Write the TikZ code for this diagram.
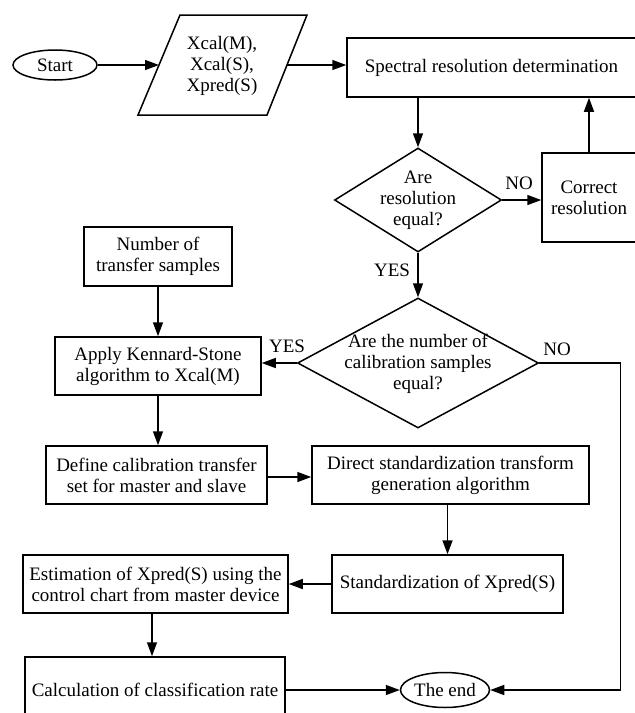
\documentclass[tikz,border=0pt]{standalone}
\usepackage{fontspec}
\setmainfont{Liberation Serif}
\usetikzlibrary{arrows.meta,shapes.geometric}
\begin{document}
\begin{tikzpicture}[x=1pt,y=-1pt,
  every node/.style={font=\fontsize{19}{21}\selectfont, inner sep=0pt, align=center},
  line/.style={line width=1.5pt},
  arr/.style={line width=1.5pt, -{Triangle[length=14pt,width=10pt]}},
  box/.style={draw, line width=1.5pt, rectangle, minimum width=#1},
  oval/.style={draw, line width=1.5pt, ellipse},
  dia/.style={draw, line width=1.5pt, diamond},
  lbl/.style={}
]
\useasboundingbox (0,0) rectangle (635,713);

% start
\node[oval, minimum width=84pt, minimum height=30pt] (start) at (55,65) {Start};

% input parallelogram
\draw[line, line join=miter] (180,15) -- (307,15) -- (267,115) -- (138,115) -- cycle;
\node (input) at (222,66) {Xcal(M),\\Xcal(S),\\Xpred(S)};
\coordinate (inL) at (159,65);
\coordinate (inR) at (287,65);

% boxes
\node[box=289pt, minimum height=59pt] (spec) at (491.5,67.5) {Spectral resolution determination};
\node[dia, minimum width=167pt, minimum height=104pt] (d1) at (418,200) {};
\node at (418,200) {Are\\resolution\\equal?};
\node[box=94pt, minimum height=89pt] (corr) at (589,197.5) {Correct\\resolution};
\node[dia, minimum width=241pt, minimum height=130pt] (d2) at (418,363) {};
\node at (418,364) {Are the number of\\calibration samples\\equal?};
\node[box=148pt, minimum height=59pt] (num) at (158,256.5) {Number of\\transfer samples};
\node[box=206pt, minimum height=58pt] (ks) at (158,366) {Apply Kennard-Stone\\algorithm to Xcal(M)};
\node[box=221pt, minimum height=58pt] (def) at (156.5,475) {Define calibration transfer\\set for master and slave};
\node[box=277pt, minimum height=58pt] (dir) at (450.5,475) {Direct standardization transform\\generation algorithm};
\node[box=231pt, minimum height=58pt] (std) at (447.5,584) {Standardization of Xpred(S)};
\node[box=265pt, minimum height=58pt] (est) at (155.5,584) {Estimation of Xpred(S) using the\\control chart from master device};
\node[box=260pt, minimum height=66pt] (calc) at (155,690) {Calculation of classification rate};
\node[oval, minimum width=89pt, minimum height=35pt] (end) at (445,690) {The end};

% labels
\node[lbl] (no1) at (519,183) {NO};
\node[lbl] (yes1) at (392,270) {YES};
\node[lbl] (yes2) at (287,346) {YES};
\node[lbl] (no2) at (557,349) {NO};

% connectors
\draw[arr] (start.east) -- (inL);
\draw[arr] (inR) -- (inR -| spec.west);
\draw[arr] (d1.north |- spec.south) -- (d1.north);
\draw[arr] (d1.east) -- (d1.east -| corr.west);
\draw[arr] (corr.north) -- (corr.north |- spec.south);
\draw[arr] (d1.south) -- (d2.north);
\draw[arr] (num.south) -- (ks.north);
\draw[arr] (d2.west) -- (d2.west -| ks.east);
\draw[arr] (ks.south) -- (ks.south |- def.north);
\draw[arr] (def.east |- 0,477) -- (dir.west |- 0,477);
\draw[arr] (std.north |- dir.south) -- (std.north);
\draw[arr] (std.west) -- (est.east);
\draw[arr] (est.south -| 152,0) -- (calc.north -| 152,0);
\draw[arr] (calc.east) -- (end.west);
\draw[arr] (d2.east) -- ++(81,0) |- (end.east);
\end{tikzpicture}
\end{document}
